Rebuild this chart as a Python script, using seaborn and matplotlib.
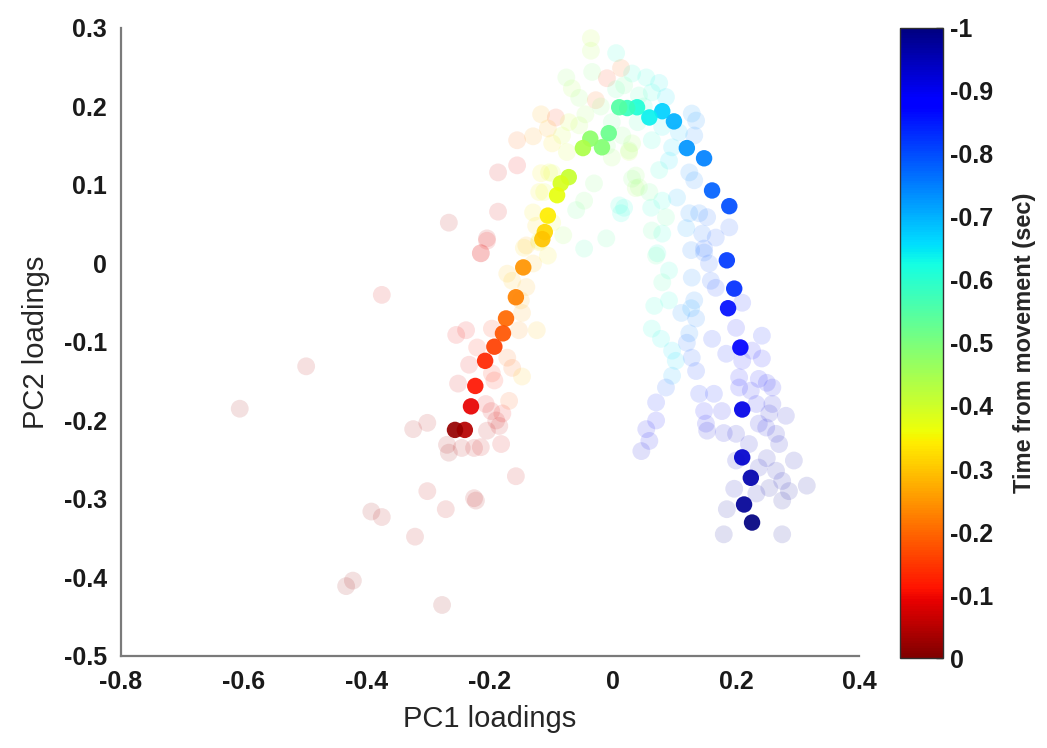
import numpy as np
import pandas as pd
import matplotlib
matplotlib.use("Agg")
import matplotlib.pyplot as plt
import seaborn as sns
from matplotlib.colors import Normalize
from matplotlib.cm import ScalarMappable

# ---- mean trajectory: PC loadings per time bin ----
pc1_traj = [0.226, 0.213, 0.224, 0.210, 0.210, 0.207, 0.187, 0.197, 0.185, 0.189,
            0.161, 0.148, 0.120, 0.099, 0.080, 0.059, 0.039, 0.023, 0.010, -0.007,
            -0.018, -0.037, -0.049, -0.072, -0.085, -0.091, -0.106, -0.111, -0.115, -0.146,
            -0.158, -0.174, -0.179, -0.193, -0.208, -0.224, -0.231, -0.241, -0.257]
pc2_traj = [-0.330, -0.307, -0.273, -0.247, -0.186, -0.107, -0.057, -0.032, 0.004, 0.073,
            0.093, 0.134, 0.147, 0.181, 0.194, 0.186, 0.199, 0.198, 0.199, 0.166,
            0.148, 0.159, 0.147, 0.110, 0.102, 0.087, 0.061, 0.040, 0.031, -0.005,
            -0.043, -0.070, -0.089, -0.106, -0.124, -0.156, -0.182, -0.212, -0.212]
t_traj = [-1.00, -0.98, -0.96, -0.93, -0.91, -0.88, -0.86, -0.83, -0.82, -0.80,
          -0.78, -0.75, -0.73, -0.70, -0.67, -0.64, -0.61, -0.58, -0.55, -0.52,
          -0.49, -0.48, -0.44, -0.41, -0.39, -0.37, -0.34, -0.32, -0.30, -0.25,
          -0.23, -0.20, -0.18, -0.16, -0.13, -0.11, -0.09, -0.05, -0.02]

# ---- individual loadings (background cloud) ----
pc1_all = [
    -0.607, -0.499, -0.376, -0.393, -0.376, -0.434, -0.423, -0.322, -0.302, -0.278,
    -0.226, -0.223, -0.272, -0.158, -0.252, -0.255, -0.239, -0.215, -0.205, -0.234,
    -0.221, -0.325, -0.302, -0.270, -0.267, -0.246, -0.226, -0.215, -0.182, -0.193,
    -0.197, -0.207, -0.198, -0.180, -0.190, -0.205, -0.185, -0.169, -0.172, -0.164,
    -0.153, -0.148, -0.150, -0.197, -0.172, -0.164, -0.120, -0.145, -0.148, -0.124,
    -0.036, -0.036, 0.005, 0.013, -0.010, -0.076, -0.034, -0.055, -0.028, -0.067,
    -0.117, -0.093, -0.106, -0.130, -0.156, -0.099, -0.083, -0.075, -0.055, -0.072,
    -0.002, 0.015, 0.026, -0.002, -0.156, -0.187, -0.099, -0.112, -0.031, -0.047,
    -0.060, 0.031, 0.037, 0.010, 0.013, -0.187, -0.267, -0.205, -0.215, -0.081,
    -0.011, -0.047, -0.120, -0.125, -0.141, -0.120, -0.104,
    0.031, 0.054, 0.075, 0.063, 0.086, 0.042, 0.018, 0.128, 0.135, 0.132,
    0.107, 0.080, 0.063, 0.096, 0.091, 0.075, 0.031, 0.026, 0.037, 0.059,
    0.042, 0.124, 0.132, 0.104, 0.018, 0.080, 0.062, 0.086, 0.063, 0.080,
    0.124, 0.140, 0.153, 0.189, 0.119, 0.145, 0.167, 0.148, 0.127, 0.072,
    0.070, 0.091, 0.080, 0.091, 0.067, 0.063, 0.078, 0.096, 0.102, 0.096,
    0.086, 0.070, 0.070, 0.054, 0.059, 0.046, 0.128, 0.132, 0.127, 0.111,
    0.135, 0.124, 0.120, 0.128, 0.135, 0.140, 0.164, 0.148, 0.151, 0.153,
    0.177, 0.180, 0.200, 0.159, 0.167, 0.156, 0.148, 0.210, 0.200, 0.161,
    0.242, 0.184, 0.226, 0.242, 0.210, 0.205, 0.205, 0.224, 0.237, 0.250,
    0.259, 0.233, 0.259, 0.254, 0.281, 0.249, 0.265, 0.237, 0.270, 0.221,
    0.250, 0.294, 0.237, 0.265, 0.275, 0.254, 0.286, 0.275, 0.315, 0.197,
    0.233, 0.185, 0.180, 0.275, 0.200,
    -0.130, -0.141, -0.106, -0.099, -0.130, -0.117,
    -0.020, 0.005, 0.040, 0.050, -0.045, -0.010,
]
pc2_all = [
    -0.185, -0.131, -0.040, -0.316, -0.323, -0.411, -0.404, -0.348, -0.290, -0.435,
    -0.299, -0.302, -0.313, -0.271, -0.153, -0.091, -0.085, 0.013, 0.029, -0.129,
    -0.107, -0.211, -0.203, -0.231, -0.241, -0.235, -0.235, -0.234, -0.230, -0.149,
    -0.140, -0.179, -0.188, -0.191, -0.200, -0.213, -0.207, -0.175, -0.120, -0.133,
    -0.085, -0.063, -0.047, -0.083, -0.013, -0.022, 0.029, 0.020, -0.144, -0.085,
    0.287, 0.271, 0.268, 0.249, 0.236, 0.237, 0.244, 0.211, 0.208, 0.223,
    0.190, 0.186, 0.172, 0.162, 0.157, 0.153, 0.163, 0.142, 0.176, 0.180,
    0.180, 0.163, 0.142, 0.135, 0.125, 0.116, 0.115, 0.091, 0.102, 0.080,
    0.068, 0.108, 0.096, 0.074, 0.064, 0.066, 0.052, 0.032, 0.013, 0.036,
    0.032, 0.019, 0.091, 0.048, 0.023, 0.027, 0.116,
    0.242, 0.237, 0.230, 0.218, 0.212, 0.214, 0.227, 0.191, 0.182, 0.163,
    0.167, 0.174, 0.157, 0.148, 0.131, 0.119, 0.153, 0.144, 0.112, 0.091,
    0.097, 0.116, 0.106, 0.084, 0.071, 0.080, 0.071, 0.059, 0.042, 0.038,
    0.064, 0.064, 0.059, 0.046, 0.045, 0.038, 0.033, 0.019, 0.017, 0.013,
    0.010, -0.009, -0.024, -0.047, -0.054, -0.083, -0.096, -0.111, -0.124, -0.143,
    -0.158, -0.177, -0.200, -0.211, -0.226, -0.239, -0.018, -0.047, -0.057, -0.063,
    -0.070, -0.089, -0.101, -0.120, -0.137, -0.166, -0.166, -0.188, -0.204, -0.213,
    -0.188, -0.216, -0.217, -0.022, -0.031, 0.000, 0.014, -0.050, -0.082, -0.096,
    -0.092, -0.115, -0.111, -0.121, -0.124, -0.145, -0.158, -0.162, -0.147, -0.152,
    -0.158, -0.179, -0.179, -0.191, -0.194, -0.209, -0.217, -0.204, -0.230, -0.230,
    -0.248, -0.251, -0.260, -0.264, -0.277, -0.286, -0.290, -0.302, -0.283, -0.287,
    -0.293, -0.313, -0.345, -0.345, -0.251,
    0.000, -0.030, 0.010, 0.052, 0.065, 0.115,
    0.200, 0.222, 0.180, 0.200, 0.190, 0.150,
]
t_all = [
    -0.03, -0.05, -0.08, -0.03, -0.04, -0.02, -0.03, -0.05, -0.06, -0.02,
    -0.05, -0.04, -0.06, -0.07, -0.08, -0.10, -0.10, -0.10, -0.10, -0.09,
    -0.12, -0.04, -0.05, -0.04, -0.03, -0.05, -0.06, -0.07, -0.08, -0.12,
    -0.13, -0.09, -0.08, -0.10, -0.07, -0.06, -0.07, -0.18, -0.20, -0.19,
    -0.25, -0.27, -0.28, -0.14, -0.30, -0.30, -0.37, -0.32, -0.30, -0.30,
    -0.42, -0.43, -0.60, -0.20, -0.15, -0.48, -0.50, -0.47, -0.20, -0.44,
    -0.28, -0.15, -0.27, -0.26, -0.20, -0.33, -0.40, -0.38, -0.44, -0.40,
    -0.52, -0.50, -0.42, -0.46, -0.10, -0.08, -0.38, -0.37, -0.50, -0.50,
    -0.52, -0.50, -0.45, -0.60, -0.62, -0.08, -0.05, -0.07, -0.08, -0.45,
    -0.55, -0.57, -0.35, -0.32, -0.28, -0.33, -0.37,
    -0.60, -0.62, -0.64, -0.62, -0.65, -0.56, -0.52, -0.73, -0.74, -0.75,
    -0.68, -0.64, -0.60, -0.66, -0.65, -0.60, -0.45, -0.47, -0.48, -0.52,
    -0.47, -0.74, -0.75, -0.70, -0.62, -0.62, -0.60, -0.55, -0.54, -0.60,
    -0.74, -0.76, -0.78, -0.80, -0.72, -0.77, -0.80, -0.80, -0.76, -0.60,
    -0.55, -0.60, -0.56, -0.62, -0.60, -0.62, -0.63, -0.65, -0.66, -0.70,
    -0.80, -0.85, -0.88, -0.90, -0.90, -0.92, -0.75, -0.75, -0.73, -0.74,
    -0.76, -0.75, -0.78, -0.80, -0.82, -0.84, -0.85, -0.88, -0.90, -0.92,
    -0.90, -0.92, -0.93, -0.80, -0.82, -0.80, -0.78, -0.85, -0.86, -0.83,
    -0.85, -0.85, -0.88, -0.88, -0.87, -0.88, -0.88, -0.90, -0.88, -0.90,
    -0.90, -0.90, -0.92, -0.93, -0.93, -0.92, -0.94, -0.92, -0.94, -0.93,
    -0.95, -0.96, -0.95, -0.96, -0.96, -0.97, -0.97, -0.98, -0.97, -0.95,
    -0.96, -0.97, -0.98, -0.98, -0.93,
    -0.30, -0.28, -0.34, -0.36, -0.34, -0.35,
    -0.50, -0.55, -0.56, -0.58, -0.45, -0.50,
]

x_ticks = [-0.8, -0.6, -0.4, -0.2, 0.0, 0.2, 0.4]
x_tick_labels = ["-0.8", "-0.6", "-0.4", "-0.2", "0", "0.2", "0.4"]
y_ticks = [-0.5, -0.4, -0.3, -0.2, -0.1, 0.0, 0.1, 0.2, 0.3]
y_tick_labels = ["-0.5", "-0.4", "-0.3", "-0.2", "-0.1", "0", "0.1", "0.2", "0.3"]
cb_ticks = [0.0, -0.1, -0.2, -0.3, -0.4, -0.5, -0.6, -0.7, -0.8, -0.9, -1.0]
cb_tick_labels = ["0", "-0.1", "-0.2", "-0.3", "-0.4", "-0.5", "-0.6", "-0.7", "-0.8", "-0.9", "-1"]

traj = pd.DataFrame({"pc1": pc1_traj, "pc2": pc2_traj, "t": t_traj})
cloud = pd.DataFrame({"pc1": pc1_all, "pc2": pc2_all, "t": t_all})

sns.set_style("white")
plt.rcParams["font.family"] = ["Liberation Sans", "DejaVu Sans"]
plt.rcParams["axes.unicode_minus"] = False

jet = matplotlib.colormaps["jet"]

fig = plt.figure(figsize=(10.47, 7.48), dpi=100)
ax = fig.add_axes([0.1156, 0.1230, 0.7049, 0.8396])

norm = (-1.0, 0.0)
sns.scatterplot(data=cloud, x="pc1", y="pc2", hue="t", palette=jet, hue_norm=norm,
                s=165, alpha=0.12, linewidth=0, legend=False, ax=ax)
sns.scatterplot(data=traj, x="pc1", y="pc2", hue="t", palette=jet, hue_norm=norm,
                s=140, alpha=0.92, linewidth=0, legend=False, ax=ax)

ax.set_xlim(-0.8, 0.4)
ax.set_ylim(-0.5, 0.3)
ax.set_xticks(x_ticks)
ax.set_xticklabels(x_tick_labels, fontsize=18, fontweight="bold", color="#1a1a1a")
ax.set_yticks(y_ticks)
ax.set_yticklabels(y_tick_labels, fontsize=18, fontweight="bold", color="#1a1a1a")
ax.tick_params(direction="in", length=7, width=1.2, color="#404040", pad=10)
ax.set_xlabel("PC1 loadings", fontsize=21, color="#262626", labelpad=8)
ax.set_ylabel("PC2 loadings", fontsize=21, color="#262626", labelpad=10)
for side in ("top", "right"):
    ax.spines[side].set_visible(False)
for side in ("left", "bottom"):
    ax.spines[side].set_color("#7a7a7a")
    ax.spines[side].set_linewidth(1.6)

# colour bar for time relative to movement onset
cax = fig.add_axes([0.8596, 0.1203, 0.041, 0.8423])
sm = ScalarMappable(norm=Normalize(vmin=-1.0, vmax=0.0), cmap=jet)
cb = fig.colorbar(sm, cax=cax)
cax.invert_yaxis()
cb.set_ticks(cb_ticks)
cb.set_ticklabels(cb_tick_labels)
cax.tick_params(direction="in", length=5, width=1, color="#303030", labelsize=18, pad=5)
for lab in cax.get_yticklabels():
    lab.set_fontweight("bold")
    lab.set_color("#1a1a1a")
cb.outline.set_linewidth(1.0)
cb.outline.set_edgecolor("#303030")
cb.set_label("Time from movement (sec)", fontsize=17, fontweight="bold", color="#262626", labelpad=14)

fig.savefig("out.png", dpi=100)
